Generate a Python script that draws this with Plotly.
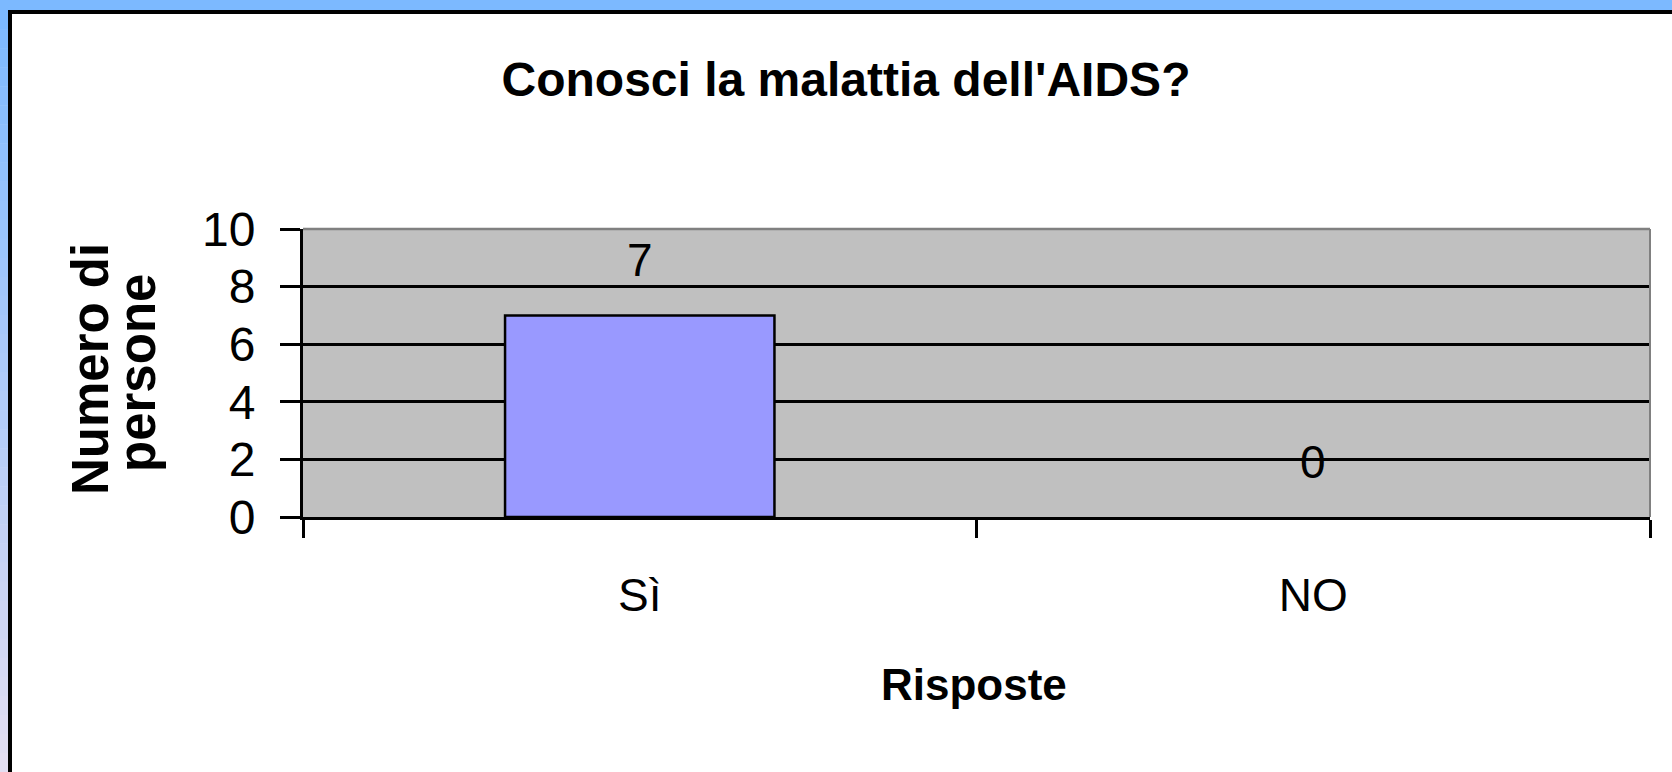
import plotly.graph_objects as go

# ---- data ----
categories = ["Sì", "NO"]
values = [7, 0]
label_texts = ["7", "0"]
y_tick_vals = [0, 2, 4, 6, 8, 10]
title_text = "Conosci la malattia dell'AIDS?"
x_title = "Risposte"
y_title_lines = ["Numero di", "persone"]

W, H = 1672, 772
L, R, T, B = 303, 22, 229, 255
PW, PH = W - L - R, H - T - B


def px(x):
    return (x - L) / PW


def py(y):
    return (H - B - y) / PH


FONT = "Liberation Sans, Arial, sans-serif"

fig = go.Figure()
fig.add_trace(go.Bar(
    x=categories, y=values,
    marker=dict(color="#9999FF",
                line=dict(color="black", width=[2.5 if v > 0 else 0 for v in values])),
    hoverinfo="x+y",
))

annotations = []
for c, v, t in zip(categories, values, label_texts):
    annotations.append(dict(x=c, y=v, xref="x", yref="y", text=t, showarrow=False,
                            yanchor="middle", yshift=55,
                            font=dict(family=FONT, size=46, color="black")))

annotations.append(dict(x=px(974), y=py(684), xref="paper", yref="paper", text=x_title,
                        showarrow=False, xanchor="center", yanchor="middle",
                        font=dict(family=FONT, size=44, color="black", weight="bold")))
YT_SIZE = 51
for line_txt, cx, cy in zip(y_title_lines, [90, 137], [369, 373]):
    annotations.append(dict(x=px(cx), y=py(cy), xref="paper", yref="paper", text=line_txt,
                            showarrow=False, xanchor="center", yanchor="middle", textangle=-90,
                            font=dict(family=FONT, size=YT_SIZE, color="black", weight="bold")))

shapes = []
# blue top strip
shapes.append(dict(type="rect", xref="paper", yref="paper", x0=px(-5), x1=px(W + 5),
                   y0=py(10), y1=py(-5), fillcolor="#7CB9FF", line=dict(width=0), layer="below"))
# left gradient strip
c0 = (124, 185, 255)
c1 = (228, 222, 242)
N = 40
for i in range(N):
    ya = 10 + (H - 10) * i / N
    yb = 10 + (H - 10) * (i + 1) / N
    f = (i + 0.5) / N
    col = "rgb(%d,%d,%d)" % tuple(round(a + (b - a) * f) for a, b in zip(c0, c1))
    shapes.append(dict(type="rect", xref="paper", yref="paper", x0=px(-5), x1=px(8.5),
                       y0=py(yb + 0.5), y1=py(ya), fillcolor=col, line=dict(width=0), layer="below"))
# black frame
shapes.append(dict(type="line", xref="paper", yref="paper", x0=px(8), x1=px(W + 5),
                   y0=py(12), y1=py(12), line=dict(color="black", width=4), layer="below"))
shapes.append(dict(type="line", xref="paper", yref="paper", x0=px(10), x1=px(10),
                   y0=py(10), y1=py(H + 5), line=dict(color="black", width=4), layer="below"))
# gray top/right plot border
shapes.append(dict(type="line", xref="paper", yref="paper", x0=0, x1=1, y0=1, y1=1,
                   line=dict(color="#808080", width=2.5), layer="above"))
shapes.append(dict(type="line", xref="paper", yref="paper", x0=1, x1=1, y0=0, y1=1,
                   line=dict(color="#808080", width=2), layer="above"))

fig.update_layout(
    width=W, height=H,
    margin=dict(l=L, r=R, t=T, b=B, autoexpand=False),
    paper_bgcolor="white", plot_bgcolor="#C0C0C0",
    bargap=0.6, showlegend=False,
    title=dict(text=title_text, x=846 / W, y=1 - 79 / H, xanchor="center", yanchor="middle",
               xref="container", yref="container",
               font=dict(family=FONT, size=48, color="black", weight="bold")),
    xaxis=dict(type="category", showline=True, linecolor="black", linewidth=3,
               ticks="outside", tickson="boundaries", ticklen=18, tickwidth=3, tickcolor="black",
               showgrid=False, ticklabelstandoff=36,
               tickfont=dict(family=FONT, size=46, color="black")),
    yaxis=dict(range=[0, 10], tickvals=y_tick_vals, showline=True, linecolor="black", linewidth=3,
               ticks="outside", ticklen=20, tickwidth=3, tickcolor="black",
               showgrid=True, gridcolor="black", gridwidth=3, zeroline=False,
               ticklabelstandoff=15,
               tickfont=dict(family=FONT, size=48, color="black")),
    annotations=annotations,
    shapes=shapes,
)

fig.write_html("out.html", config={"displayModeBar": False},
               post_script="document.body.style.margin='0';")
